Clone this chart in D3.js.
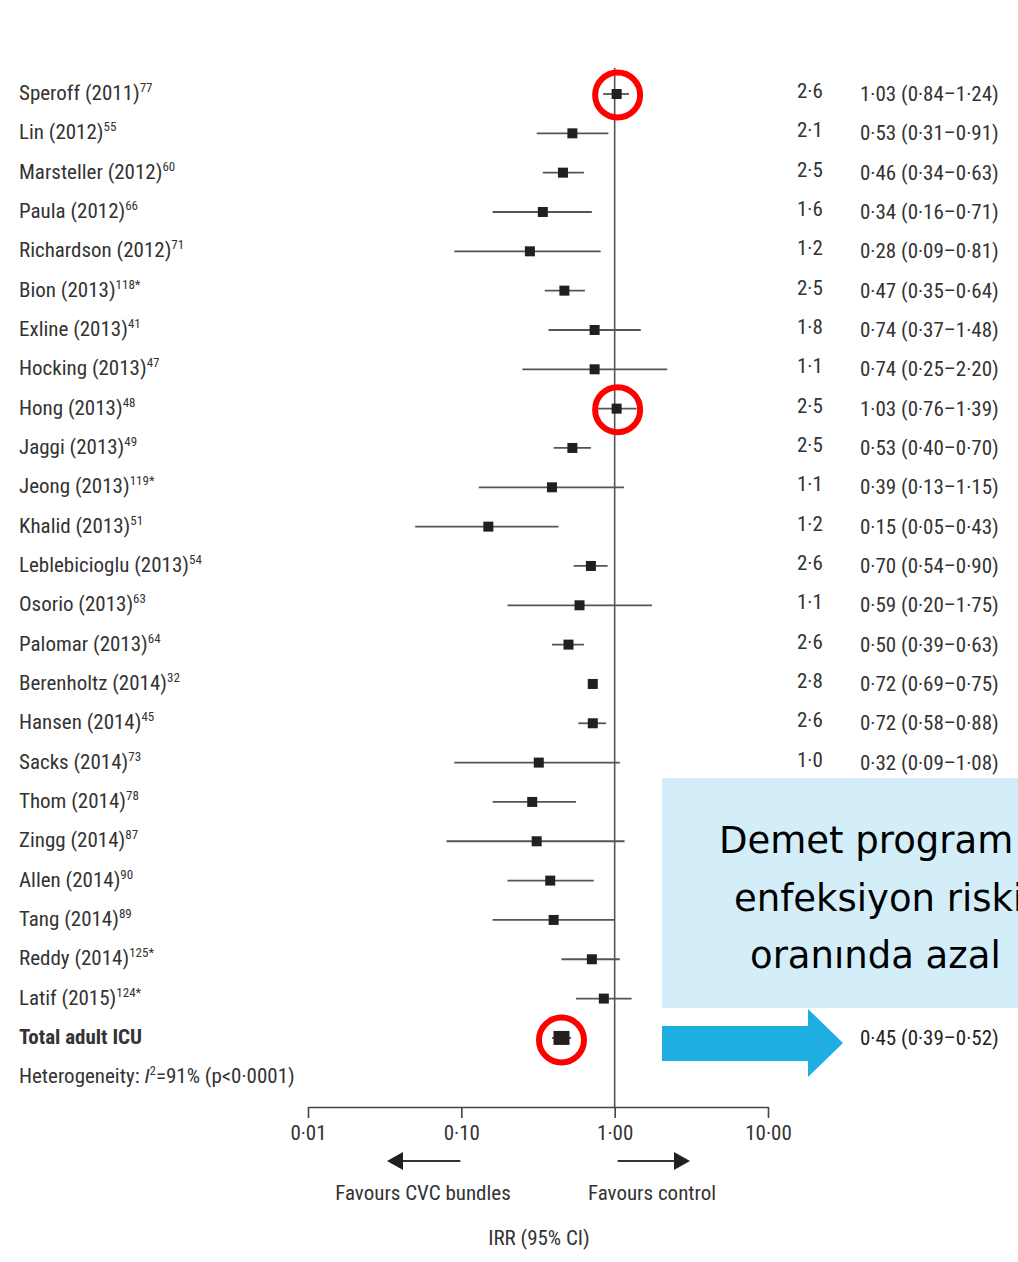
<!DOCTYPE html>
<html>
<head>
<meta charset="utf-8">
<script src="https://cdn.jsdelivr.net/npm/d3@7"></script>
<style>
  html, body { margin: 0; padding: 0; background: #fff; }
  svg { display: block; }
</style>
</head>
<body>
<svg id="chart" width="1018" height="1262"></svg>
<script>
// ---------- DATA ----------
const studies = ["Speroff (2011)","Lin (2012)","Marsteller (2012)","Paula (2012)","Richardson (2012)",
  "Bion (2013)","Exline (2013)","Hocking (2013)","Hong (2013)","Jaggi (2013)","Jeong (2013)",
  "Khalid (2013)","Leblebicioglu (2013)","Osorio (2013)","Palomar (2013)","Berenholtz (2014)",
  "Hansen (2014)","Sacks (2014)","Thom (2014)","Zingg (2014)","Allen (2014)","Tang (2014)",
  "Reddy (2014)","Latif (2015)"];
const refs = ["77","55","60","66","71","118*","41","47","48","49","119*","51","54","63","64","32",
  "45","73","78","87","90","89","125*","124*"];
const weights = [2.6,2.1,2.5,1.6,1.2,2.5,1.8,1.1,2.5,2.5,1.1,1.2,2.6,1.1,2.6,2.8,2.6,1.0,1.9,1.0,2.0,1.3,2.3,2.4];
const irr = [1.03,0.53,0.46,0.34,0.28,0.47,0.74,0.74,1.03,0.53,0.39,0.15,0.70,0.59,0.50,0.72,0.72,0.32,0.29,0.31,0.38,0.40,0.71,0.85];
const ciLow = [0.84,0.31,0.34,0.16,0.09,0.35,0.37,0.25,0.76,0.40,0.13,0.05,0.54,0.20,0.39,0.69,0.58,0.09,0.16,0.08,0.20,0.16,0.45,0.56];
const ciHigh = [1.24,0.91,0.63,0.71,0.81,0.64,1.48,2.20,1.39,0.70,1.15,0.43,0.90,1.75,0.63,0.75,0.88,1.08,0.56,1.16,0.73,0.99,1.08,1.29];
const totalLabel = "Total adult ICU";
const totalIrr = [0.45, 0.39, 0.52];
const heterogeneity = { label: "Heterogeneity: ", i2: "=91% (p<0·0001)" };
const tickValues = [0.01, 0.1, 1, 10];
const tickLabels = ["0·01", "0·10", "1·00", "10·00"];
const highlighted = [0, 8, "total"];
const boxLines = ["Demet program", "enfeksiyon riski", "oranında azal"];

// ---------- LAYOUT ----------
const svg = d3.select("#chart");
const font = "'Liberation Sans Narrow','Arial Narrow','Roboto Condensed',sans-serif";
const textColor = "#333";
const x = d3.scaleLog().domain([0.01, 10]).range([308, 768]);
const nRows = studies.length + 2; // studies + total + heterogeneity
const y = d3.scaleLinear().domain([0, nRows - 1]).range([94, 94 + (nRows - 1) * 39.33]);
const axisY = 1107;
const fmt = v => d3.format(".2f")(v).replace(".", "·");
const fmtW = v => d3.format(".1f")(v).replace(".", "·");
const box = { x: 662, y: 778, w: 360, h: 230 };

svg.append("rect").attr("width", 1018).attr("height", 1262).attr("fill", "#fff");

// reference line at 1
svg.append("line")
  .attr("x1", x(1)).attr("x2", x(1))
  .attr("y1", 68).attr("y2", axisY)
  .attr("stroke", "#555").attr("stroke-width", 1.6);

// CI lines
const rows = svg.append("g");
rows.selectAll("line.ci").data(studies).join("line")
  .attr("class", "ci")
  .attr("x1", (d, i) => x(ciLow[i])).attr("x2", (d, i) => x(ciHigh[i]))
  .attr("y1", (d, i) => y(i)).attr("y2", (d, i) => y(i))
  .attr("stroke", "#555").attr("stroke-width", 1.8);

// squares
const sq = 10;
rows.selectAll("rect.pt").data(studies).join("rect")
  .attr("class", "pt")
  .attr("x", (d, i) => x(irr[i]) - sq / 2).attr("y", (d, i) => y(i) - sq / 2)
  .attr("width", sq).attr("height", sq)
  .attr("fill", "#231f20");

// total
const ti = studies.length;
svg.append("line")
  .attr("x1", x(totalIrr[1])).attr("x2", x(totalIrr[2]))
  .attr("y1", y(ti)).attr("y2", y(ti))
  .attr("stroke", "#555").attr("stroke-width", 1.8);
svg.append("rect")
  .attr("x", x(totalIrr[0]) - 8).attr("y", y(ti) - 7)
  .attr("width", 16).attr("height", 14).attr("fill", "#231f20");

// labels
const lab = svg.append("g").attr("font-family", font).attr("fill", textColor).attr("font-size", 21);
studies.forEach((s, i) => {
  const t = lab.append("text").attr("x", 19).attr("y", y(i) + 6);
  t.append("tspan").text(s);
  t.append("tspan").attr("font-size", 13).attr("dy", -8).text(refs[i]);
  // right-hand columns: rows hidden behind the overlay box are not visible in the reference
  const hidden = y(i) + 8 > box.y && y(i) - 12 < box.y + box.h;
  if (!hidden) {
    lab.append("text").attr("x", 797).attr("y", y(i) + 4).text(fmtW(weights[i]));
    lab.append("text").attr("x", 860).attr("y", y(i) + 7)
      .text(`${fmt(irr[i])} (${fmt(ciLow[i])}–${fmt(ciHigh[i])})`);
  }
});
lab.append("text").attr("x", 19).attr("y", y(ti) + 6).attr("font-weight", "bold").text(totalLabel);
lab.append("text").attr("x", 860).attr("y", y(ti) + 7).attr("fill", "#222")
  .text(`${fmt(totalIrr[0])} (${fmt(totalIrr[1])}–${fmt(totalIrr[2])})`);
const ht = lab.append("text").attr("x", 19).attr("y", y(ti + 1) + 6);
ht.append("tspan").text(heterogeneity.label);
ht.append("tspan").attr("font-style", "italic").text("I");
ht.append("tspan").attr("font-size", 13).attr("dy", -8).text("2");
ht.append("tspan").attr("dy", 8).text(heterogeneity.i2);

// axis
const axis = d3.axisBottom(x).tickValues(tickValues)
  .tickFormat((d, i) => tickLabels[i]).tickSize(11).tickSizeOuter(0).tickPadding(7);
const ag = svg.append("g").attr("transform", `translate(0,${axisY})`).call(axis);
ag.select(".domain").attr("stroke", "#444").attr("stroke-width", 1.6);
ag.selectAll(".tick line").attr("stroke", "#444").attr("stroke-width", 1.6);
ag.selectAll(".tick text").attr("font-family", font).attr("font-size", 21).attr("fill", textColor);

// favours arrows
const arr = svg.append("g");
const ay = 1161;
arr.append("line").attr("x1", x(0.1) - 1).attr("x2", 400).attr("y1", ay).attr("y2", ay)
  .attr("stroke", "#333").attr("stroke-width", 2);
arr.append("path").attr("d", `M387,${ay} L403,${ay - 9} L403,${ay + 9} Z`).attr("fill", "#231f20");
arr.append("line").attr("x1", x(1) + 3).attr("x2", 677).attr("y1", ay).attr("y2", ay)
  .attr("stroke", "#333").attr("stroke-width", 2);
arr.append("path").attr("d", `M690,${ay} L674,${ay - 9} L674,${ay + 9} Z`).attr("fill", "#231f20");
lab.append("text").attr("x", 423).attr("y", 1200).attr("text-anchor", "middle").text("Favours CVC bundles");
lab.append("text").attr("x", 652).attr("y", 1200).attr("text-anchor", "middle").text("Favours control");
lab.append("text").attr("x", 539).attr("y", 1245).attr("text-anchor", "middle").text("IRR (95% CI)");

// red highlight circles
highlighted.forEach(h => {
  const cx = h === "total" ? x(totalIrr[0]) : x(irr[h]) + 1;
  const cy = h === "total" ? y(ti) + 2 : y(h) + 1;
  svg.append("circle").attr("cx", cx).attr("cy", cy).attr("r", 22.5)
    .attr("fill", "none").attr("stroke", "#ff0000").attr("stroke-width", 6);
});

// overlay box
svg.append("rect").attr("x", box.x).attr("y", box.y).attr("width", box.w).attr("height", box.h)
  .attr("fill", "#d3eef9");
const bt = svg.append("g").attr("font-family", "'DejaVu Sans',sans-serif").attr("font-size", 37).attr("fill", "#000");
const bx = [719, 734, 750], by = [853, 911, 968];
boxLines.forEach((l, i) => bt.append("text").attr("x", bx[i]).attr("y", by[i]).text(l));

// blue arrow
svg.append("path")
  .attr("d", "M662,1026 L808,1026 L808,1009 L843,1043 L808,1077 L808,1061 L662,1061 Z")
  .attr("fill", "#1eaee2");
</script>
</body>
</html>
